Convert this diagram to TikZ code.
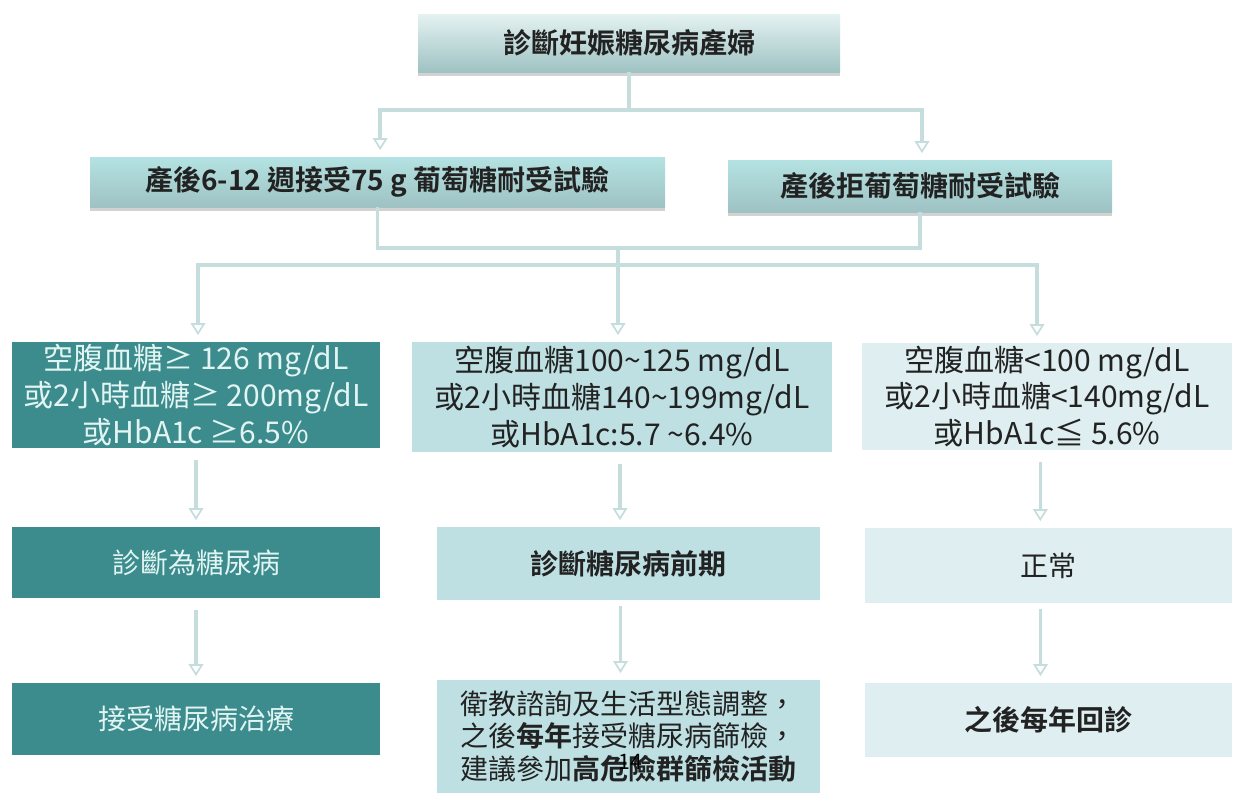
\documentclass[tikz,border=0pt]{standalone}
\usepackage{fontspec}
\newfontfamily\cjk{Noto Sans CJK TC}[BoldFont={Noto Sans CJK TC Bold}]
\usetikzlibrary{arrows.meta,shadows}
\definecolor{dteal}{HTML}{3C8B8D}
\definecolor{lteal}{HTML}{BEE0E3}
\definecolor{pteal}{HTML}{DFEEF0}
\definecolor{conn}{HTML}{C6DDDD}
\definecolor{ltext}{HTML}{E2F5F3}
\definecolor{dtext}{HTML}{222222}
\definecolor{hbot}{HTML}{9FC2C3}
\definecolor{topA}{HTML}{E4F2F1}
\definecolor{topB}{HTML}{B4E2E2}
\tikzset{
  base/.style={font=\cjk\fontsize{21}{27}\selectfont, align=center, inner sep=0pt},
  crit/.style={font=\cjk\fontsize{22.5}{27.5}\selectfont},
  headbox/.style={base, text=dtext, font=\cjk\bfseries\fontsize{21}{27}\selectfont,
     top color=#1, bottom color=hbot,
     drop shadow={opacity=0.35, shadow xshift=0pt, shadow yshift=-3pt}},
  darkbox/.style={base, fill=dteal, text=ltext},
  midbox/.style={base, fill=lteal, text=dtext},
  palebox/.style={base, fill=pteal, text=dtext},
  ln/.style={draw=conn, line width=2.6pt},
  arr/.style={ln, -{Triangle[open, length=9pt, width=11pt, line width=1.3pt]}, shorten >=5pt},
}
\begin{document}
\begin{tikzpicture}[x=0.75pt,y=-0.75pt]
\useasboundingbox (0,0) rectangle (1238,793);
\fill[white] (0,0) rectangle (1238,793);

% top row
\node[headbox=topA, minimum width=316.5pt, minimum height=43.5pt] (T) at (629,43) {診斷妊娠糖尿病產婦};
\node[headbox=topB, minimum width=431.25pt, minimum height=37.5pt] (A) at (377.5,182) {產後6-12 週接受75 g 葡萄糖耐受試驗};
\node[headbox=topB, minimum width=288pt, minimum height=39pt] (B) at (920,186) {產後拒葡萄糖耐受試驗};

% row 3
\node[darkbox, crit, minimum width=276pt, minimum height=79.5pt] (L3) at (196,395)
  {空腹血糖≥ 126 mg/dL\\或2小時血糖≥ 200mg/dL\\或HbA1c ≥6.5\%};
\node[midbox, crit, minimum width=315pt, minimum height=82.5pt] (M3) at (622,397)
  {空腹血糖100\textasciitilde125 mg/dL\\或2小時血糖140\textasciitilde199mg/dL\\或HbA1c:5.7 \textasciitilde6.4\%};
\node[palebox, crit, minimum width=277.5pt, minimum height=80.25pt] (R3) at (1047,396.5)
  {空腹血糖<100 mg/dL\\或2小時血糖<140mg/dL\\或HbA1c≦ 5.6\%};

% row 4
\node[darkbox, minimum width=276pt, minimum height=53.25pt] (L4) at (196,562.5) {診斷為糖尿病};
\node[midbox, font=\cjk\bfseries\fontsize{21}{27}\selectfont, minimum width=287.25pt, minimum height=54.75pt] (M4) at (628.5,563.5) {診斷糖尿病前期};
\node[palebox, minimum width=275.25pt, minimum height=56.25pt] (R4) at (1048.5,565.5) {正常};

% row 5
\node[darkbox, minimum width=276pt, minimum height=54pt] (L5) at (196,719) {接受糖尿病治療};
\node[midbox, font=\cjk\fontsize{21}{24.5}\selectfont, align=left, minimum width=287.25pt, minimum height=84.75pt] (M5) at (628.5,736.5)
  {衛教諮詢及生活型態調整，\\之後\textbf{每年}接受糖尿病篩檢，\\建議參加\textbf{高危險群篩檢活動}};
\node[palebox, font=\cjk\bfseries\fontsize{21}{27}\selectfont, minimum width=275.25pt, minimum height=55.5pt] (R5) at (1048.5,720) {之後每年回診};

% connectors
\coordinate (j1) at (629,110);
\coordinate (j2) at (618,248);
\coordinate (j3) at (618,265);
\draw[ln] (T) -- (j1);
\draw[arr] (j1) -| ([xshift=2pt]A.north);
\draw[arr] (j1) -| ([xshift=1.5pt]B.north);
\draw[ln] (A) |- (j2);
\draw[ln] (B) |- (j2);
\draw[arr] (j2) -- (j2 |- M3.north);
\draw[arr] (j3) -| ([xshift=1.5pt]L3.north);
\draw[arr] (j3) -| ([xshift=-7.5pt]R3.north);

\draw[arr, shorten <=9pt] (L3) -- (L4);
\draw[arr, shorten <=9pt] (L4) -- (L5);
\draw[arr, shorten <=9pt] ([xshift=-1.5pt]M3.south) -- ([xshift=-1.5pt]M3.south |- M4.north);
\draw[arr, shorten <=4pt] ([xshift=-6pt]M4.south) -- ([xshift=-6pt]M4.south |- M5.north);
\draw[arr, shorten <=9pt] ([xshift=-5pt]R3.south) -- ([xshift=-5pt]R3.south |- R4.north);
\draw[arr, shorten <=4pt] ([xshift=-6pt]R4.south) -- ([xshift=-6pt]R4.south |- R5.north);

\node[font=\cjk\fontsize{16}{18}\selectfont, text=black] (pg) at (630,762) {14};
\end{tikzpicture}
\end{document}
